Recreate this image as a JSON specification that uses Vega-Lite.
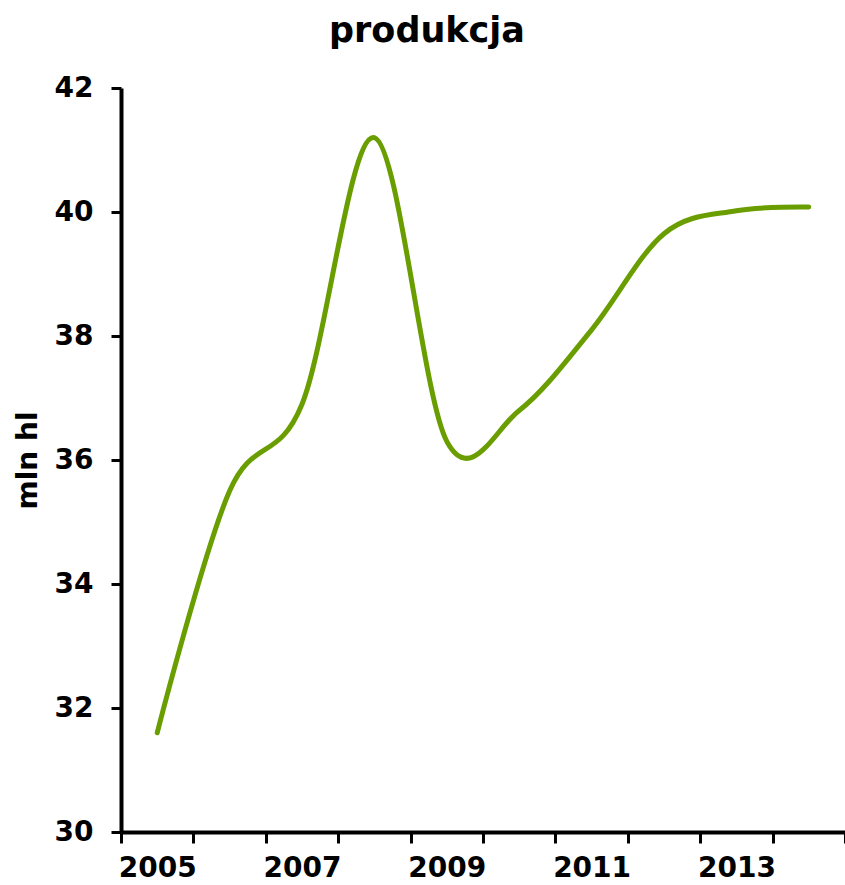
{
  "$schema": "https://vega.github.io/schema/vega-lite/v6.json",
  "width": 724,
  "height": 744,
  "autosize": {"type": "none"},
  "padding": {"left": 121, "top": 88, "right": 0, "bottom": 53},
  "background": "white",
  "title": {
    "text": "produkcja",
    "font": "DejaVu Sans",
    "fontSize": 35,
    "fontWeight": "bold",
    "color": "black",
    "anchor": "middle",
    "frame": "group",
    "baseline": "alphabetic",
    "offset": -3,
    "dx": -56
  },
  "config": {
    "view": {"stroke": null},
    "axis": {
      "grid": false,
      "domainColor": "black",
      "domainWidth": 4,
      "tickColor": "black",
      "tickWidth": 3,
      "labelFont": "DejaVu Sans",
      "labelFontWeight": "bold",
      "labelFontSize": 28,
      "labelColor": "black",
      "titleFont": "DejaVu Sans",
      "titleFontWeight": "bold",
      "titleColor": "black"
    }
  },
  "data": {
    "values": [
      {"rok": 2005, "wartosc": 31.6},
      {"rok": 2006, "wartosc": 35.5},
      {"rok": 2007, "wartosc": 36.9},
      {"rok": 2008, "wartosc": 41.2},
      {"rok": 2009, "wartosc": 36.3},
      {"rok": 2010, "wartosc": 36.8},
      {"rok": 2011, "wartosc": 38.1},
      {"rok": 2012, "wartosc": 39.65},
      {"rok": 2013, "wartosc": 40.02},
      {"rok": 2014, "wartosc": 40.08}
    ]
  },
  "mark": {"type": "line", "interpolate": "cardinal", "color": "#6a9e00", "strokeWidth": 5, "strokeCap": "round"},
  "encoding": {
    "x": {
      "field": "rok",
      "type": "ordinal",
      "scale": {"type": "band", "paddingInner": 0, "paddingOuter": 0},
      "bandPosition": 0.5,
      "axis": {
        "title": null,
        "labelAngle": 0,
        "tickBand": "extent",
        "labelOverlap": false,
        "labelExpr": "datum.value % 2 == 1 ? datum.label : ''",
        "tickSize": 11,
        "labelPadding": 11
      }
    },
    "y": {
      "field": "wartosc",
      "type": "quantitative",
      "scale": {"domain": [30, 42], "nice": false, "zero": false},
      "axis": {
        "title": "mln hl",
        "values": [30, 32, 34, 36, 38, 40, 42],
        "tickSize": 10,
        "labelPadding": 18,
        "labelFlush": false,
        "titlePadding": 12,
        "titleFontSize": 28
      }
    }
  }
}
